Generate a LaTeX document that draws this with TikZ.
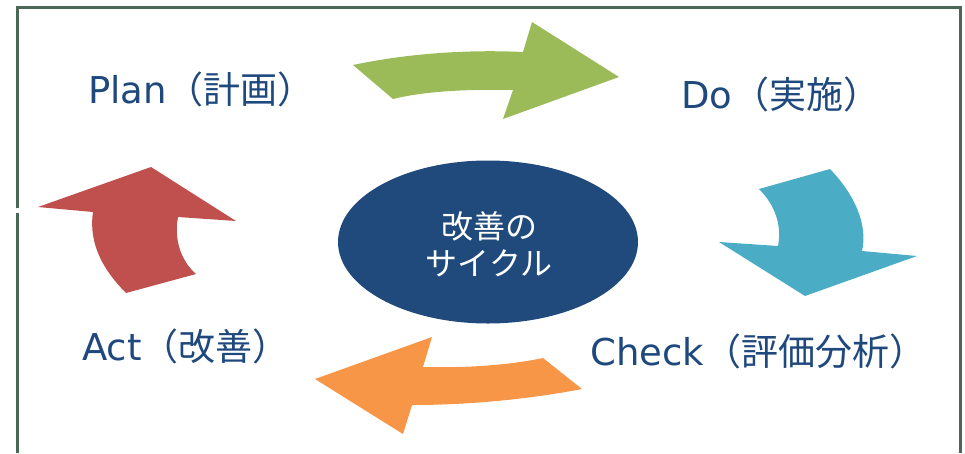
\documentclass[tikz,border=0pt]{standalone}
\usepackage{fontspec}
\usetikzlibrary{shapes.geometric}
\setmainfont{DejaVu Sans}
\newfontfamily\cjk{Noto Sans CJK JP}
\definecolor{framecol}{RGB}{74,104,88}
\definecolor{txtblue}{RGB}{31,73,125}
\definecolor{ellblue}{RGB}{32,74,124}
\definecolor{agreen}{RGB}{155,187,89}
\definecolor{ablue}{RGB}{75,172,198}
\definecolor{aorange}{RGB}{247,150,70}
\definecolor{ared}{RGB}{192,80,77}
\tikzset{
  lbl/.style={anchor=base west, inner sep=0pt, text=txtblue, font=\fontsize{37}{40}\selectfont},
  framel/.style={draw=framecol, line width=3pt}
}
\begin{document}
\begin{tikzpicture}[x=1pt,y=-1pt]
\useasboundingbox (0,0) rectangle (965,453);
% frame
\coordinate (fbl) at (17,453);
\coordinate (fgap1) at (17,213);
\coordinate (fgap2) at (17,208);
\coordinate (ftl) at (17,7);
\coordinate (ftr) at (960,7);
\coordinate (fbr) at (960,453);
\draw[framel] (fbl) -- (fgap1);
\draw[framel] (fgap2) -- (ftl) -- (ftr) -- (fbr);
% green arrow (Plan -> Do)
\fill[agreen] (353,65) .. controls (400,55) and (460,49) .. (523,52) -- (532,22) -- (619,77) -- (503,119) -- (513,90) .. controls (470,89) and (425,91) .. (393,99) -- cycle;
% blue arrow (Do -> Check)
\fill[ablue] (759,189) -- (830,169) .. controls (855,195) and (868,225) .. (862,251) -- (917,256) -- (805,296) -- (719,242) -- (778,246) .. controls (782,225) and (775,205) .. (759,189) -- cycle;
% orange arrow (Check -> Act)
\fill[aorange] (543,358) .. controls (505,366) and (460,368) .. (423,367) -- (432,337) -- (315,379) -- (403,434) -- (412,405) .. controls (470,405) and (530,399) .. (582,389) -- cycle;
% red arrow (Act -> Plan)
\fill[ared] (151,167) -- (236,221) -- (178,217) .. controls (174,238) and (180,260) .. (196,274) -- (126,293) .. controls (105,272) and (88,245) .. (93,212) -- (38,207) -- cycle;
% center ellipse
\node[ellipse, fill=ellblue, minimum width=300pt, minimum height=163pt, inner sep=0pt] (center) at (488,242) {};
\node[text=white, align=center, font=\cjk\fontsize{32}{37}\selectfont] (ctext) at (489,244) {改善の\\サイクル};
% labels
\node[lbl] (plan) at (88,103) {Plan{\cjk（計画）}};
\node[lbl] (do) at (681,108) {Do{\cjk（実施）}};
\node[lbl] (check) at (590,365) {Check{\cjk（評価分析）}};
\node[lbl] (act) at (82,360) {Act{\cjk（改善）}};
\end{tikzpicture}
\end{document}
